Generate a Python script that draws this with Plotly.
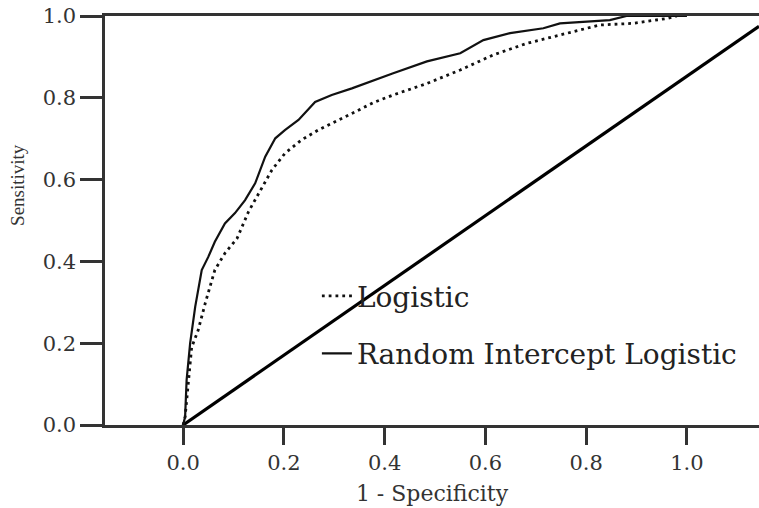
import plotly.graph_objects as go

# ROC curve: Random Intercept Logistic (solid)
ri_fpr = [0.0, 0.004, 0.007, 0.014, 0.024, 0.037, 0.050, 0.063, 0.083, 0.103, 0.123,
          0.143, 0.163, 0.183, 0.202, 0.229, 0.262, 0.295, 0.335, 0.381, 0.417,
          0.484, 0.550, 0.596, 0.649, 0.715, 0.748, 0.847, 0.880, 1.0]
ri_tpr = [0.0, 0.02, 0.110, 0.200, 0.289, 0.379, 0.411, 0.448, 0.493, 0.518, 0.550,
          0.591, 0.656, 0.701, 0.721, 0.746, 0.790, 0.807, 0.823, 0.844, 0.860,
          0.889, 0.909, 0.941, 0.958, 0.970, 0.982, 0.990, 1.0, 1.0]

# ROC curve: Logistic (dotted)
lg_fpr = [0.0, 0.004, 0.017, 0.030, 0.044, 0.063, 0.083, 0.107, 0.130, 0.146, 0.176,
          0.202, 0.235, 0.268, 0.302, 0.341, 0.381, 0.417, 0.484, 0.550, 0.616,
          0.682, 0.748, 0.827, 0.893, 0.960, 0.980]
lg_tpr = [0.0, 0.02, 0.190, 0.232, 0.298, 0.379, 0.420, 0.456, 0.522, 0.558, 0.623,
          0.664, 0.697, 0.721, 0.742, 0.766, 0.790, 0.807, 0.835, 0.868, 0.905,
          0.933, 0.954, 0.978, 0.982, 0.994, 1.0]

# Reference diagonal
diag_x = [0.0, 1.143]
diag_y = [0.0, 0.975]

x_ticks = [0.0, 0.2, 0.4, 0.6, 0.8, 1.0]
y_ticks = [0.0, 0.2, 0.4, 0.6, 0.8, 1.0]

serif_wide = "DejaVu Serif"
serif = "Liberation Serif"

fig = go.Figure()
fig.add_trace(go.Scatter(x=diag_x, y=diag_y, mode="lines", showlegend=False,
                         line=dict(color="black", width=3.2)))
fig.add_trace(go.Scatter(x=lg_fpr, y=lg_tpr, mode="lines", name="Logistic",
                         legendgroup="a",
                         line=dict(color="#111", width=2.8, dash="2.8px,4px")))
fig.add_trace(go.Scatter(x=ri_fpr, y=ri_tpr, mode="lines", name="Random Intercept Logistic",
                         legendgroup="b",
                         line=dict(color="#111", width=2.2)))

fig.update_layout(
    width=759, height=508,
    margin=dict(l=105, r=0, t=16, b=83),
    paper_bgcolor="white", plot_bgcolor="white",
    showlegend=True,
    legend=dict(x=0.324, y=0.376, xanchor="left", yanchor="top",
                bgcolor="rgba(0,0,0,0)", borderwidth=0,
                traceorder="grouped", tracegroupgap=18,
                font=dict(family=serif_wide, size=28, color="#222"),
                itemwidth=30),
    xaxis=dict(range=[-0.155, 1.143], tickvals=x_ticks, tickformat=".1f",
               showgrid=False, zeroline=False, showline=True, mirror=True,
               linecolor="#333", linewidth=2.5,
               ticks="outside", ticklen=17, tickwidth=2.5, tickcolor="#333",
               tickfont=dict(family=serif_wide, size=21, color="#333"),
               title=dict(text="1 - Specificity", standoff=12,
                          font=dict(family=serif_wide, size=22, color="#333"))),
    yaxis=dict(range=[0, 1], tickvals=y_ticks, tickformat=".1f",
               showgrid=False, zeroline=False, showline=True, mirror=False,
               linecolor="#333", linewidth=2.5,
               ticks="outside", ticklen=22, tickwidth=2.5, tickcolor="#333",
               tickfont=dict(family=serif_wide, size=21, color="#333")),
    annotations=[dict(text="Sensitivity", textangle=-90, x=-0.133, y=0.587,
                      xref="paper", yref="paper", xanchor="center", yanchor="middle",
                      showarrow=False,
                      font=dict(family=serif, size=19, color="#333"))],
)

fig.write_html("out.html")
